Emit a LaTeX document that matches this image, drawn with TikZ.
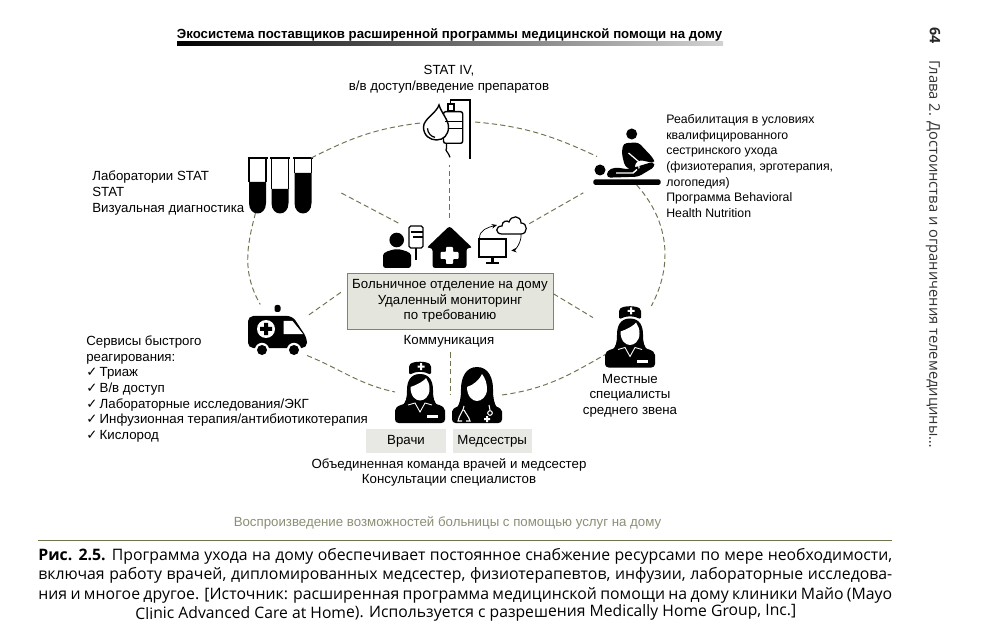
\documentclass[tikz,border=0pt]{standalone}
\usepackage{fontspec}
\setmainfont{Liberation Sans}
\newfontfamily\capfont{Open Sans}
\newfontfamily\symfont{DejaVu Sans}
\usepackage{xcolor}
\usepackage{tikz}
\usetikzlibrary{arrows.meta,positioning}
\definecolor{dashcol}{HTML}{6E7350}
\definecolor{hubfill}{HTML}{E4E6DE}
\definecolor{pillfill}{HTML}{E8E8E4}
\newcommand{\tick}{{\symfont\char"2713}\,}
\tikzset{
 ivpic/.pic={
  \draw[line width=0.8pt] (3.2,-25) -- (3.2,-32) -- (22.5,-32) -- (22.5,27);
  \fill (-1,-28.7) rectangle (7.5,-20.3);
  \fill[white] (1,-26.5) rectangle (5.5,-21.5);
  \draw[line width=0.8pt, fill=white, rounded corners=1.2pt] (-4,-20.3) rectangle (15.2,11.3);
  \draw[line width=0.7pt] (-1,11.3) -- (-1,16.3) .. controls (-3,19) and (1,20) .. (1,22) -- (2.5,25.3);
  \draw[line width=0.8pt, fill=white] (-8.5,-27) .. controls (-11,-19) and (-24,-13) .. (-24,-5) .. controls (-24,4) and (-17,8) .. (-11,8) .. controls (-4,8) and (1,3) .. (1,-5) .. controls (1,-12) and (-6,-19) .. cycle;
  \draw[line width=0.7pt] (-2.5,-10.3) -- (15.2,-10.3) (1,-3.7) -- (15.2,-3.7);
  \draw[line width=0.7pt] (-20,-3.7) .. controls (-20,1) and (-16,5) .. (-12.5,5.3);
 },
 pics/tubepic/.style={code={
  \fill (-8.5,#1) -- (8.5,#1) -- (8.5,18) .. controls (8.5,32) and (-8.5,32) .. (-8.5,18) -- cycle;
  \draw[line width=0.8pt] (-8.5,-26) -- (-8.5,#1) (8.5,-26) -- (8.5,#1);
  \draw[line width=1.2pt] (-10,-27) -- (10,-27);
 }},
 rehabpic/.pic={
  \fill (2.7,-22.5) circle[radius=5.5];
  \fill (-29,13.5) circle[radius=5.5];
  \fill[rounded corners=1pt] (-35.7,22.8) rectangle (31.7,28.5);
  \fill[rounded corners=2pt] (-22.3,21.2) -- (-21.7,14.2) -- (-14,10.8) -- (-0.7,12.8) -- (24.3,5.2) -- (26,10.2) -- (9.3,20.2) -- cycle;
  \draw[white, line width=0.8pt] (-13,16.5) -- (4,16.5) -- (8,13);
  \fill[rounded corners=2pt] (-5.7,-13.2) -- (9.3,-14.2) -- (24.3,1.8) -- (26,6.8) -- (11,3.5) -- (6,6) -- (6,15.2) -- (-4,10.2) -- (-7.3,-3.2) -- cycle;
  \draw[white, line width=0.7pt] (-0.5,-3.5) -- (9.5,5) -- (10,12);
 },
 ambulancepic/.pic={
  \fill[rounded corners=3pt] (-29.5,-14) -- (15,-14) -- (29.5,8) -- (29.5,18) -- (-29.5,18) -- cycle;
  \fill[rounded corners=1.2pt] (-3,-25) rectangle (3,-18);
  \fill[white] (6,-9) -- (15,-9) -- (25.5,4) -- (6,4) -- cycle;
  \fill[white] (-11.5,-1) circle[radius=9];
  \fill (-13.5,-7) rectangle (-9.5,5) (-17.5,-3) rectangle (-5.5,1);
  \foreach \wx in {-15.5,16.5} {
   \fill[white] (\wx,20) circle[radius=7.2];
   \fill (\wx,20) circle[radius=5];
  }
 },
 nursepic/.pic={
  \fill[rounded corners=2pt] (-25,31) -- (-25,22) .. controls (-25,13) and (-14,12) .. (-6,8) -- (6,8) .. controls (14,12) and (25,13) .. (25,22) -- (25,31) -- cycle;
  \fill (0,-18) .. controls (-10,-18) and (-13,-10) .. (-13,-2) .. controls (-13,6) and (-14,10) .. (-18,14) -- (18,14) .. controls (14,10) and (13,6) .. (13,-2) .. controls (13,-10) and (10,-18) .. (0,-18);
  \fill[white] (-9.5,-5) .. controls (-3,-7) and (4,-11) .. (6,-14) .. controls (8,-11) and (9.5,-8) .. (9.5,-3) .. controls (9.5,5) and (4,8.5) .. (0,8.5) .. controls (-4,8.5) and (-9.5,5) .. cycle;
  \draw[white, line width=0.5pt] (-12,13) -- (-5,11) -- (0,20) -- (5,11) -- (12,13);
  \fill[rounded corners=1pt] (-11,-17) -- (-11,-27) .. controls (-6,-31) and (6,-31) .. (11,-27) -- (11,-17) .. controls (4,-21) and (-4,-21) .. cycle;
  \fill[white] (0,-29) rectangle (2,-22) (-2.5,-26.5) rectangle (4.5,-24.5);
  \fill[white] (7,23) rectangle (18,26);
 },
 medicpic/.pic={
  \fill[rounded corners=2pt] (-25,28) -- (-25,20) .. controls (-25,12) and (-14,10) .. (-6,7) -- (6,7) .. controls (14,10) and (25,12) .. (25,20) -- (25,28) -- cycle;
  \fill (0,-28) .. controls (-12,-28) and (-16,-16) .. (-16,-6) .. controls (-16,3) and (-17,8) .. (-20,13) -- (20,13) .. controls (17,8) and (16,3) .. (16,-6) .. controls (16,-16) and (12,-28) .. (0,-28);
  \fill[white] (-10,-8) .. controls (-3,-10) and (3,-16) .. (5,-21) .. controls (8,-17) and (10,-12) .. (10,-6) .. controls (10,2) and (4,6) .. (0,6) .. controls (-4,6) and (-10,2) .. cycle;
  \draw[white, line width=0.6pt] (-13,11) .. controls (-13,15) and (-18,20) .. (-19,26) -- (-15,26) (-13,15) .. controls (-11,19) and (-8,22) .. (-7,26) -- (-11,26);
  \draw[white, line width=0.6pt] (12,10) -- (13,15) (13,18) circle[radius=2.3];
  \fill[white] (7,23) rectangle (13,25) (9,21) rectangle (11,27);
 },
 carepic/.pic={
  \fill (-6.3,-7) circle[radius=7.3];
  \fill[rounded corners=1.5pt] (-20,21) -- (-20,11) .. controls (-20,5) and (-12,3) .. (-6,2) .. controls (0,3) and (8,5) .. (8,11) -- (8,21) -- cycle;
  \draw[line width=0.7pt, fill=white, rounded corners=1pt] (6,-21) rectangle (20,1);
  \draw[line width=0.6pt] (8,-15) -- (20,-15) (10,-10) -- (20,-10);
  \draw[line width=1.2pt] (13,1) -- (13,13);
 },
 homepic/.pic={
  \fill[rounded corners=1.5pt] (0,-21) -- (23,1) -- (17,1) -- (17,21) -- (-17,21) -- (-17,1) -- (-23,1) -- cycle;
  \fill[white, rounded corners=0.5pt] (-3.5,0) -- (3.5,0) -- (3.5,5) -- (9,5) -- (9,12) -- (3.5,12) -- (3.5,17) -- (-3.5,17) -- (-3.5,12) -- (-9,12) -- (-9,5) -- (-3.5,5) -- cycle;
 },
 cloudpic/.pic={
  \draw[line width=0.7pt] (-10,9) .. controls (-17,9) and (-17,1) .. (-10,1) .. controls (-10,-4) and (-5,-5) .. (-3,-3) .. controls (-1,-10) and (9,-10) .. (9,-2) .. controls (16,-2) and (16,9) .. (9,9) -- cycle;
 },
 screenpic/.pic={
  \draw[line width=0.7pt] (-13.5,-12) rectangle (13.5,6);
  \draw[line width=1.3pt] (0,6) -- (0,11);
  \draw[line width=1.3pt] (-6.5,12) -- (6.5,12);
 }
}
\begin{document}
\begin{tikzpicture}[x=0.02cm, y=-0.02cm, font=\fontsize{7.55}{8.9}\selectfont,
 iconbox/.style={inner sep=0pt, outer sep=0pt},
 lbl/.style={inner sep=0pt, align=center},
 lbll/.style={inner sep=0pt, align=left, anchor=west},
 pillbox/.style={fill=pillfill, inner sep=0pt, minimum height=0.48cm},
 dashln/.style={draw=dashcol, line width=0.55pt, dash pattern=on 3pt off 1.8pt},
 cyc/.style={-{Stealth[length=3pt,width=2.6pt]}, line width=0.4pt}]
\useasboundingbox (0,0) rectangle (1000,631);
\node[inner sep=0pt, font=\fontsize{7.53}{9}\selectfont\bfseries] (head) at (449.5,35) {Экосистема поставщиков расширенной программы медицинской помощи на дому};
\shade[left color=black, right color=gray!35] (177,42) rectangle (723,45.5);
\node[inner sep=0pt, rotate=-90, font=\capfont\fontsize{8.2}{10}\selectfont\bfseries, text=black!85] (pagenum) at (935,36) {64};
\node[inner sep=0pt, rotate=-90, font=\capfont\fontsize{8.4}{10}\selectfont, text=black!80] (chapter) at (933,254) {Глава 2. Достоинства и ограничения телемедицины\dots};

\node[iconbox, minimum width=1.1cm, minimum height=1.32cm] (iv) at (447.5,132) {};
\node[iconbox, minimum width=1.28cm, minimum height=1.12cm] (tubes) at (279,185) {};
\node[iconbox, minimum width=1.28cm, minimum height=1.14cm] (rehab) at (629,156.5) {};
\node[iconbox, minimum width=1.18cm, minimum height=1.02cm] (ambulance) at (277.5,330) {};
\node[iconbox, minimum width=1cm, minimum height=1.22cm] (localnurse) at (630,336.5) {};
\node[iconbox, minimum width=1cm, minimum height=1.24cm] (doctor) at (420,392) {};
\node[iconbox, minimum width=1cm, minimum height=1.12cm] (medic) at (477,395) {};
\node[iconbox, minimum width=0.8cm, minimum height=0.86cm] (carer) at (403,247) {};
\node[iconbox, minimum width=0.92cm, minimum height=0.84cm] (home) at (449.5,247) {};
\node[iconbox, minimum width=0.6cm, minimum height=0.36cm] (cloud) at (512,225) {};
\node[iconbox, minimum width=0.54cm, minimum height=0.52cm] (screen) at (492.5,251) {};

\pic at (iv) {ivpic};
\foreach \tx/\ty in {257.5/-3, 280/4, 303/-12}
 \pic at (\tx,185) {tubepic=\ty};
\pic at (rehab) {rehabpic};
\pic at (ambulance) {ambulancepic};
\pic at (localnurse) {nursepic};
\pic at (doctor) {nursepic};
\pic at (medic) {medicpic};
\pic at (carer) {carepic};
\pic at (home) {homepic};
\pic at (cloud) {cloudpic};
\pic at (screen) {screenpic};

\node[draw=black!50, fill=hubfill, line width=0.5pt, minimum width=4.12cm, minimum height=1.12cm, inner sep=0pt, lbl] (hub) at (450,301) {Больничное отделение на дому\\Удаленный мониторинг\\по требованию};
\node[pillbox, minimum width=1.6cm, lbl] (docpill) at (406,441) {Врачи};
\node[pillbox, minimum width=1.58cm, lbl, right=0.12cm of docpill] (medpill) {Медсестры};

\node[lbl] (stativ) at (449,79.5) {STAT IV,\\в/в доступ/введение препаратов};
\node[lbll, font=\fontsize{7}{8.9}\selectfont] (rehabtxt) at (666,166) {Реабилитация в условиях\\квалифицированного\\сестринского ухода\\(физиотерапия, эрготерапия,\\логопедия)\\Программа Behavioral\\Health Nutrition};
\node[lbll] (labtxt) at (92,193) {Лаборатории STAT\\STAT\\Визуальная диагностика};
\node[lbll] (rapidtxt) at (86,389) {Сервисы быстрого\\реагирования:\\\tick Триаж\\\tick В/в доступ\\\tick Лабораторные исследования/ЭКГ\\\tick Инфузионная терапия/антибиотикотерапия\\\tick Кислород};
\node[lbl] (commtxt) at (449,341) {Коммуникация};
\node[lbl] (localtxt) at (630,395.5) {Местные\\специалисты\\среднего звена};
\node[lbl] (teamtxt) at (449,472.5) {Объединенная команда врачей и медсестер\\Консультации специалистов};
\node[lbl, text=dashcol!80] (foot) at (447.5,523) {Воспроизведение возможностей больницы с помощью услуг на дому};
\draw[draw=dashcol, line width=0.5pt] (38,540) -- (892,540);

\draw[dashln] (iv.162) to[out=187, in=27] (tubes.40);
\draw[dashln] (iv.20) to[out=-5, in=155] (rehab.west);
\draw[dashln] (rehab.-75) to[out=-48, in=62] (localnurse.55);
\draw[dashln] (medic.east) to[out=8, in=210] (localnurse.216);
\draw[dashln] (ambulance.south east) to[out=-22, in=168] (doctor.west);
\draw[dashln] (tubes.230) to[out=255, in=120] (ambulance.124);
\draw[dashln, shorten <=4.5pt] (home.north) -- (home.north |- iv.south);
\draw[dashln, shorten <=1.5pt, shorten >=9pt] (cloud.east) -- (rehab.south west);
\draw[dashln, shorten <=3pt, shorten >=18pt] (carer.north) -- (tubes.14);
\draw[dashln, shorten <=4pt] (hub.173) -- (ambulance.25);
\draw[dashln, shorten >=8pt] (hub.4) -- (localnurse.155);
\draw[dashln, shorten <=13pt] (hub.south) -- (hub.south |- medic.center);
\draw[cyc] (screen.135) to[out=90, in=195] (cloud.west);
\draw[cyc, shorten >=3pt] (cloud.-45) to[out=-85, in=5] (screen.east);

\node[inner sep=0pt, anchor=north west, font=\capfont\fontsize{9.0}{11}\selectfont, align=left] (caption) at (38,548) {\makebox[17.08cm][s]{\textbf{Рис. 2.5.} Программа ухода на дому обеспечивает постоянное снабжение ресурсами по мере необходимости,}\\\makebox[17.08cm][s]{включая работу врачей, дипломированных медсестер, физиотерапевтов, инфузии, лабораторные исследова-}\\\makebox[17.08cm][s]{ния и многое другое. [Источник: расширенная программа медицинской помощи на дому клиники Майо (Mayo}};
\node[inner sep=0pt, anchor=west, rotate=0.3, font=\capfont\fontsize{8.95}{11}\selectfont] (capend) at (135,615) {Clinic Advanced Care at Home). Используется с разрешения Medically Home Group, Inc.]};
\end{tikzpicture}
\end{document}
